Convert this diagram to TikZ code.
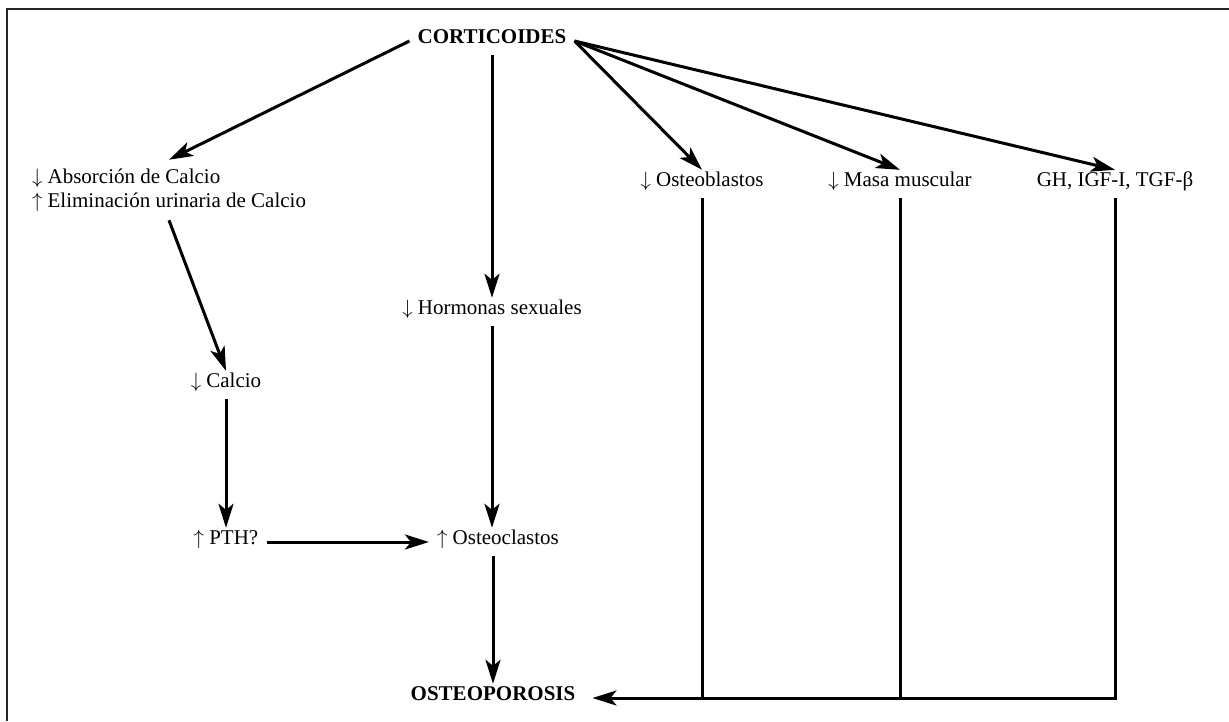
\documentclass[tikz,border=0pt]{standalone}
\usepackage{fontspec}
\setmainfont{Liberation Serif}
\usetikzlibrary{arrows.meta,calc}
\newcommand{\dn}{$\downarrow$}
\newcommand{\upa}{$\uparrow$}
\begin{document}
\begin{tikzpicture}[x=1pt,y=-1pt,
  txt/.style={font=\fontsize{21}{23.5}\selectfont, inner xsep=8pt, inner ysep=9pt, text height=0.75em, text depth=0.25em},
  ttl/.style={txt, font=\fontsize{21}{23.5}\selectfont\bfseries},
  arr/.style={line width=3pt, -{Stealth[length=24pt,width=15pt,inset=6pt]}},
  ln/.style={line width=3pt},
  frame/.style={line width=1.8pt, black!85}]
\useasboundingbox (0,0) rectangle (1229,721);
\draw[frame] (7,721) -- (7,9) -- (1229,9);

\node[ttl] (cort) at (492,41) {CORTICOIDES};
\node[txt, align=left, text height=, text depth=] (abs) at (169,190) {\dn\ Absorción de Calcio\\\upa\ Eliminación urinaria de Calcio};
\node[txt] (calc) at (226,385) {\dn\ Calcio};
\node[txt] (pth) at (226,542) {\upa\ PTH?};
\node[txt] (horm) at (492,312) {\dn\ Hormonas sexuales};
\node[txt] (ocl) at (498,542) {\upa\ Osteoclastos};
\node[ttl, inner xsep=17pt] (ost) at (493,698) {OSTEOPOROSIS};
\node[txt] (obl) at (702,184) {\dn\ Osteoblastos};
\node[txt] (masa) at (900,184) {\dn\ Masa muscular};
\node[txt] (gh) at (1115,184) {GH, IGF-I, TGF-β};

\draw[arr] (cort.west) -- (abs.north);
\draw[arr] (abs.south) -- (calc.north);
\draw[arr] (calc.south) -- (calc.south |- pth.north);
\draw[arr] (pth.east) -- (pth.east -| ocl.west);
\draw[arr] (cort.south) -- (cort.south |- horm.north);
\draw[arr] (horm.south) -- (horm.south |- ocl.north);
\draw[arr] (ocl.south -| ost.north) -- (ost.north);
\draw[arr] (cort.east) -- (obl.north);
\draw[arr] (cort.east) -- (masa.north);
\draw[arr] (cort.east) -- (gh.north);
\draw[ln] (obl.south) -- (obl.south |- ost.east);
\draw[ln] (masa.south) -- (masa.south |- ost.east);
\draw[arr] (gh.south) |- (ost.east);
\end{tikzpicture}
\end{document}
